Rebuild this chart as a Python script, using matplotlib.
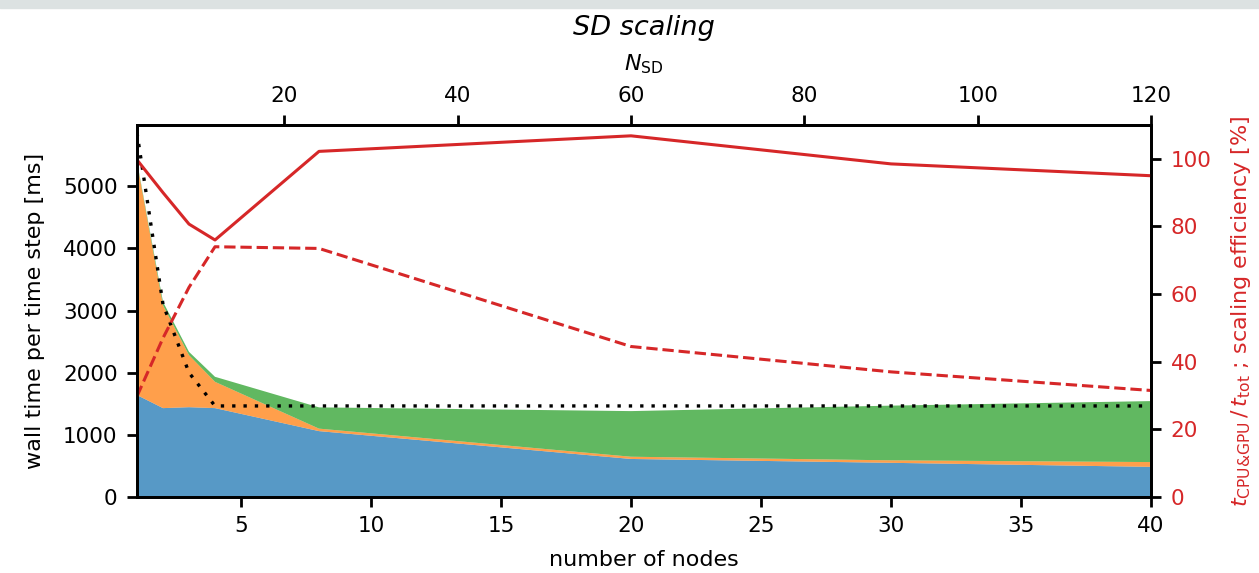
import matplotlib
matplotlib.use("Agg")
import matplotlib.pyplot as plt
from matplotlib.patches import Rectangle

# ---- data ----
nodes = [1, 2, 3, 4, 8, 20, 30, 40]
t_blue = [1640, 1430, 1445, 1430, 1060, 612, 550, 485]      # ms
t_orange = [3740, 1655, 837, 423, 40, 36, 40, 77]           # ms
t_green = [20, 55, 53, 81, 342, 734, 880, 981]              # ms
ideal = [5860, 3100, 2000, 1465, 1465, 1465, 1465, 1465]    # ms (dotted)
eff_solid = [99.7, 90.0, 80.7, 76.0, 102.2, 106.8, 98.5, 95.0]   # %
eff_dashed = [29.8, 47.0, 62.0, 74.0, 73.5, 44.5, 37.0, 31.5]     # %

top_ticks = [20, 40, 60, 80, 100, 120]
left_ticks = [0, 1000, 2000, 3000, 4000, 5000]
right_ticks = [0, 20, 40, 60, 80, 100]
bottom_ticks = [5, 10, 15, 20, 25, 30, 35, 40]

RED = "#d62728"
FS_TICK = 15.5
FS_LAB = 16
plt.rcParams["font.family"] = ["DejaVu Sans"]
plt.rcParams["font.size"] = FS_LAB

fig = plt.figure(figsize=(12.59, 5.73), dpi=100)
fig.patches.append(Rectangle((0, 1 - 8 / 573), 1, 8 / 573, transform=fig.transFigure,
                             color="#dce2e2", zorder=0))
ax = fig.add_axes([137 / 1259, 1 - 497 / 573, (1151 - 137) / 1259, (497 - 125) / 573])

ax.stackplot(nodes, t_blue, t_orange, t_green,
             colors=["#1f77b4", "#ff7f0e", "#2ca02c"], alpha=0.75, lw=0)
ax.plot(nodes, ideal, color="black", ls=(0, (1, 2.4)), lw=2.4, zorder=3)

ax.set_xlim(1, 40)
ax.set_ylim(0, 5985)
ax.set_xticks(bottom_ticks)
ax.set_yticks(left_ticks)
ax.set_xlabel("number of nodes", labelpad=10, fontsize=FS_LAB)
ax.set_ylabel("wall time per time step [ms]", labelpad=13, fontsize=FS_LAB)

for s in ax.spines.values():
    s.set_linewidth(2.0)
ax.tick_params(width=2.0, length=7, pad=7, labelsize=FS_TICK)

sec = ax.secondary_xaxis("top", functions=(lambda x: 3 * x, lambda x: x / 3))
sec.set_xticks(top_ticks)
sec.tick_params(width=2.0, length=7, pad=7, labelsize=FS_TICK)
sec.spines["top"].set_linewidth(2.0)
sec.set_xlabel(r"$N_\mathrm{SD}$", labelpad=11, fontsize=FS_LAB)

ax2 = ax.twinx()
ax2.plot(nodes, eff_solid, color=RED, lw=2.2)
ax2.plot(nodes, eff_dashed, color=RED, lw=2.2, ls="--")
ax2.set_ylim(0, 110)
ax2.set_yticks(right_ticks)
ax2.tick_params(width=2.0, length=7, pad=7, labelsize=FS_TICK, labelcolor=RED)
for s in ax2.spines.values():
    s.set_linewidth(2.0)
ax2.set_ylabel(r"$t_{\mathrm{CPU&GPU}}\,/\,t_\mathrm{tot}$ ; scaling efficiency [%]",
               color=RED, labelpad=13, fontsize=FS_LAB)

fig.text((137 + 1151) / 2 / 1259, 1 - 28 / 573, "SD scaling", ha="center", va="center",
         fontsize=19.5, style="italic")

fig.savefig("out.png", dpi=100)
